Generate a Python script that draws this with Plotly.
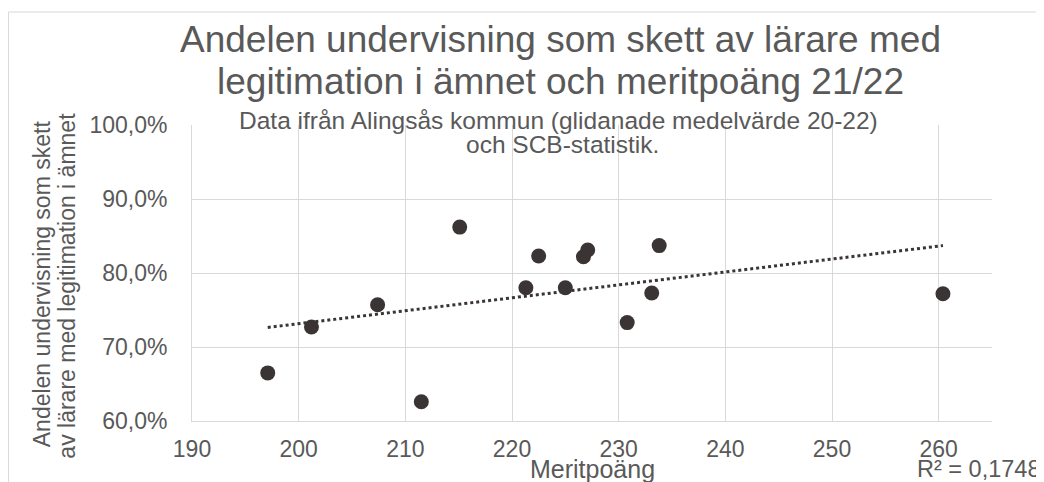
import numpy as np
import plotly.graph_objects as go

# ----------------------------------------------------------------------------
# Data
# ----------------------------------------------------------------------------

meritpoang = [197.1, 201.2, 207.4, 211.5, 215.1, 221.3, 222.5, 225.0,
              226.7, 227.1, 230.8, 233.1, 233.8, 260.4]
andel_legitimerade = [66.5, 72.7, 75.7, 62.6, 86.2, 78.0, 82.3, 78.0,
                      82.2, 83.1, 73.3, 77.3, 83.7, 77.2]

x_ticks = [190, 200, 210, 220, 230, 240, 250, 260]
y_ticks = [60, 70, 80, 90, 100]
y_tick_labels = ["60,0%", "70,0%", "80,0%", "90,0%", "100,0%"]

TITLE_LINES = ["Andelen undervisning som skett av lärare med",
               "legitimation i ämnet och meritpoäng 21/22"]
SUBTITLE_LINES = ["Data ifrån Alingsås kommun (glidanade medelvärde 20-22)",
                  "och SCB-statistik."]
Y_TITLE_LINES = ["Andelen undervisning som skett",
                 "av lärare med legitimation i ämnet"]
X_TITLE = "Meritpoäng"
R2_TEXT = "R² = 0,1748"

DOT = "#3B3434"
TEXT = "#595959"
GRID = "#D9D9D9"
FONT = "Liberation Sans, Arial, sans-serif"

# the page body has an 8px margin, so the figure is drawn 8px smaller
W, H = 1036, 474

# ----------------------------------------------------------------------------
# Linear trendline (least squares, like Excel)
# ----------------------------------------------------------------------------

x = np.array(meritpoang)
y = np.array(andel_legitimerade)
k, m = np.polyfit(x, y, 1)
trend_x = [x.min(), x.max()]
trend_y = [k * v + m for v in trend_x]

# ----------------------------------------------------------------------------
# Figure
# ----------------------------------------------------------------------------

fig = go.Figure()

fig.add_trace(go.Scatter(
    x=trend_x, y=trend_y, mode="lines",
    line=dict(color=DOT, width=3, dash="dot"),
    hoverinfo="skip", showlegend=False
))
fig.add_trace(go.Scatter(
    x=meritpoang, y=andel_legitimerade, mode="markers",
    marker=dict(color=DOT, size=15),
    showlegend=False
))


def text_note(text, x, y, size, angle=0):
    return dict(text=text, xref="paper", yref="paper", x=x, y=y,
                xanchor="center", yanchor="middle", showarrow=False,
                textangle=angle, font=dict(size=size, color=TEXT))


annotations = [
    text_note(TITLE_LINES[0], 0.46, 1.290, 37),
    text_note(TITLE_LINES[1], 0.46, 1.148, 37),
    text_note(SUBTITLE_LINES[0], 0.4575, 1.015, 24.5),
    text_note(SUBTITLE_LINES[1], 0.4625, 0.935, 24.5),
    text_note(Y_TITLE_LINES[0], -0.1875, 0.462, 23, angle=-90),
    text_note(Y_TITLE_LINES[1], -0.156, 0.458, 23, angle=-90),
    text_note(X_TITLE, 0.5, -0.163, 25),
    text_note(R2_TEXT, 0.9825, -0.163, 23.5),
]

fig.update_layout(
    width=W, height=H,
    paper_bgcolor="white", plot_bgcolor="white",
    margin=dict(l=184, r=52, t=117, b=61),
    font=dict(family=FONT, color=TEXT, size=23),
    xaxis=dict(
        range=[190, 265], tickvals=x_ticks,
        showgrid=True, gridcolor=GRID, gridwidth=1,
        showline=True, linecolor=GRID, linewidth=1,
        zeroline=False, ticks="outside", ticklen=7,
        tickcolor="rgba(0,0,0,0)", automargin=False,
        tickfont=dict(size=23, color=TEXT)
    ),
    yaxis=dict(
        range=[60, 100], tickvals=y_ticks, ticktext=y_tick_labels,
        showgrid=True, gridcolor=GRID, gridwidth=1,
        showline=True, linecolor=GRID, linewidth=1,
        zeroline=False, ticks="outside", ticklen=19,
        tickcolor="rgba(0,0,0,0)", automargin=False,
        tickfont=dict(size=23, color=TEXT)
    ),
    shapes=[dict(
        type="rect", xref="paper", yref="paper",
        x0=-0.2294, x1=1.08, y0=-0.25, y1=1.3818,
        line=dict(color=GRID, width=1), fillcolor="rgba(0,0,0,0)",
        layer="below"
    )],
    annotations=annotations,
)

fig.write_html("out.html")
